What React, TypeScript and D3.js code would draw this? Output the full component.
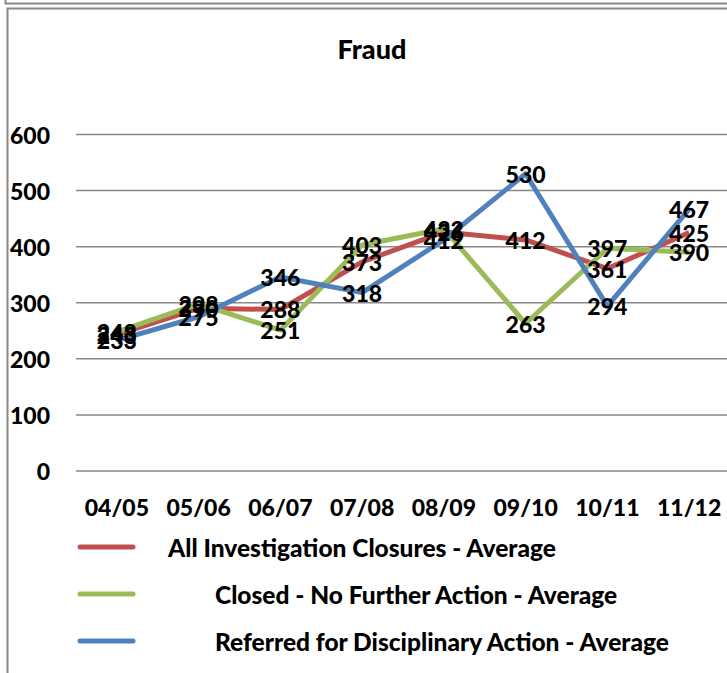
import React from 'react'
import * as d3 from 'd3'

const categories = ['04/05', '05/06', '06/07', '07/08', '08/09', '09/10', '10/11', '11/12']
const allClosures = [243, 290, 288, 373, 426, 412, 361, 425]
const noFurtherAction = [248, 298, 251, 403, 432, 263, 397, 390]
const disciplinary = [233, 275, 346, 318, 412, 530, 294, 467]
const yTicks = [0, 100, 200, 300, 400, 500, 600]

const series = [
  { name: 'All Investigation Closures - Average', values: allClosures, color: '#C0504D', indent: 168 },
  { name: 'Closed - No Further Action - Average', values: noFurtherAction, color: '#9BBB59', indent: 215 },
  { name: 'Referred for Disciplinary Action - Average', values: disciplinary, color: '#4F81BD', indent: 215 },
]

const font = 'Lato, Calibri, sans-serif'

export default function App() {
  const width = 727
  const height = 673
  // plot area runs off the right edge like the original screenshot
  const x = d3.scaleBand().domain(categories).range([76, 730])
  const y = d3.scaleLinear().domain([0, 600]).range([471, 134.5])
  const cx = (c: string) => (x(c) as number) + x.bandwidth() / 2

  const line = d3
    .line<number>()
    .x((_, i) => cx(categories[i]))
    .y(d => y(d))

  return (
    <div style={{ position: 'absolute', left: 0, top: 0 }}>
      <svg width={width} height={height} style={{ display: 'block' }} fontFamily={font} fontWeight={900}>
        <rect width={width} height={height} fill="#fff" />
        {/* frame bits */}
        <path d="M5.5,0 V3.5 H727" fill="none" stroke="#888" strokeWidth={2} />
        <path d="M7.5,673 V8.5 H727" fill="none" stroke="#888" strokeWidth={2} />

        <text x={372} y={48} fontSize={27} textAnchor="middle" dominantBaseline="central">
          Fraud
        </text>

        {yTicks.map(t => (
          <g key={t}>
            <line x1={76} x2={727} y1={y(t)} y2={y(t)} stroke="#888" strokeWidth={1.5} />
            <text x={50} y={y(t)} fontSize={23} textAnchor="end" dominantBaseline="central">
              {t}
            </text>
          </g>
        ))}

        {categories.map(c => (
          <text key={c} x={cx(c)} y={507} fontSize={23} textAnchor="middle" dominantBaseline="central">
            {c}
          </text>
        ))}

        {series.map(s => (
          <path key={s.name} d={line(s.values) || ''} fill="none" stroke={s.color} strokeWidth={5} strokeLinejoin="round" />
        ))}

        {series.map(s =>
          s.values.map((v, i) => (
            <text
              key={s.name + i}
              x={cx(categories[i])}
              y={y(v)}
              fontSize={23}
              textAnchor="middle"
              dominantBaseline="central"
            >
              {v}
            </text>
          ))
        )}

        {series.map((s, i) => {
          const ly = 547 + i * 47
          return (
            <g key={s.name}>
              <line x1={80} x2={133} y1={ly} y2={ly} stroke={s.color} strokeWidth={5} strokeLinecap="round" />
              <text x={s.indent} y={ly} fontSize={24.5} dominantBaseline="central">
                {s.name}
              </text>
            </g>
          )
        })}
      </svg>
    </div>
  )
}
